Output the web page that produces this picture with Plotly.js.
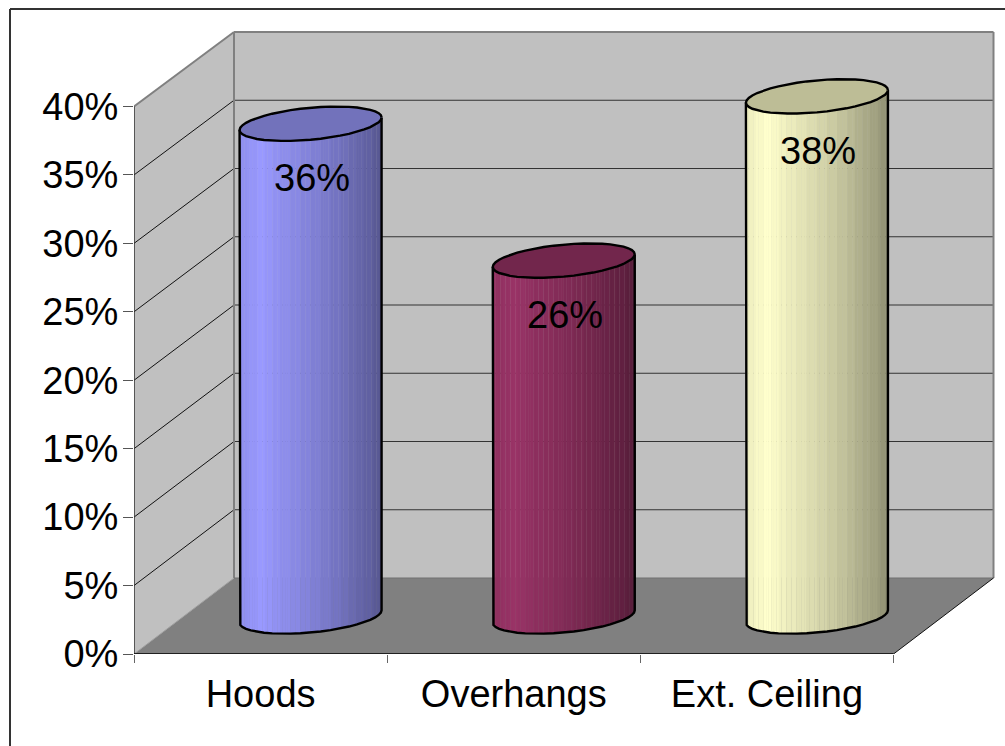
<!DOCTYPE html>
<html>
<head>
<meta charset="utf-8">
<script src="https://cdn.plot.ly/plotly-3.0.0.min.js"></script>
<style>html,body{margin:0;padding:0;background:#fff;overflow:hidden}</style>
</head>
<body>
<div id="chart" style="width:1005px;height:746px"></div>
<script>
// ---- data ----
const categories = ['Hoods', 'Overhangs', 'Ext. Ceiling'];
const values = [0.36, 0.26, 0.38];
const bodyColors = [[153,153,255], [153,51,102], [255,255,204]];
const capColors = ['#7272BB', '#72264C', '#BDBD96'];
const yTicks = [0, 0.05, 0.10, 0.15, 0.20, 0.25, 0.30, 0.35, 0.40];
const yTickLabels = ['0%','5%','10%','15%','20%','25%','30%','35%','40%'];
const edgeTicks = [-0.5, 0.5, 1.5, 2.5];
const shadeU = [-1, -0.7, -0.4, 0, 0.5, 0.85, 1];
const shadeK = [0.93, 1, 0.93, 0.85, 0.72, 0.62, 0.56];

// ---- scales: pixels per axis unit ----
const W = 1005, H = 746, L = 134, T = 14, B = 92, R = 5;
const PXX = 253.17, PXY = 1368.75;
const xMin = -0.5, xMax = xMin + (W - L - R) / PXX;
const yMin = 0, yMax = (H - T - B) / PXY;
const dX = 100 / PXX;
const backY = v => v * (546 / 547.5) + 76 / PXY;
const midX = c => c + 50 / PXX;
const midY = v => v + 37.5 / PXY;
const HW = 71 / PXX, TILT = 6.3 / PXY, MINOR = 16 / PXY;
const FACETS = 22, STRIPS = 56;

function shade(u) {
  for (let i = 1; i < shadeU.length; i++) {
    if (u <= shadeU[i]) {
      const t = (u - shadeU[i-1]) / (shadeU[i] - shadeU[i-1]);
      return shadeK[i-1] + t * (shadeK[i] - shadeK[i-1]);
    }
  }
  return shadeK[shadeK.length - 1];
}
function bandU(u) { // flat facet a point on the cylinder belongs to
  const th = Math.acos(Math.max(-1, Math.min(1, u)));
  const k = Math.min(FACETS - 1, Math.floor(th / Math.PI * FACETS));
  return Math.cos((k + 0.5) / FACETS * Math.PI);
}

const traces = [], annotations = [];
categories.forEach((name, i) => {
  const cx = midX(i), v = values[i], col = bodyColors[i];
  const xs = [], bases = [], hs = [], ws = [], cs = [];
  for (let s = 0; s < STRIPS; s++) {
    const u = -1 + (s + 0.5) * 2 / STRIPS;
    const k = shade(bandU(u));
    const y0 = midY(0) + TILT * u - MINOR * Math.sqrt(1 - u * u);
    xs.push(cx + u * HW);
    bases.push(y0);
    hs.push(midY(v) + TILT * u - y0);
    ws.push(2 * HW / STRIPS * 1.12);
    cs.push('rgb(' + col.map(c => Math.round(c * k)).join(',') + ')');
  }
  traces.push({type: 'bar', name: name, x: xs, y: hs, base: bases, width: ws,
    marker: {color: cs, line: {width: 0}}, hoverinfo: 'skip', showlegend: false});

  // cap ellipse and silhouette, on the same facets
  const capX = [], capY = [], outX = [], outY = [];
  for (let a = 0; a <= 2 * FACETS; a++) {
    const th = a / FACETS * Math.PI, u = Math.cos(th);
    capX.push(cx + u * HW);
    capY.push(midY(v) + TILT * u + MINOR * Math.sin(th));
  }
  outX.push(cx - HW); outY.push(midY(v) - TILT);
  for (let a = 0; a <= FACETS; a++) {
    const th = Math.PI - a / FACETS * Math.PI, u = Math.cos(th);
    outX.push(cx + u * HW);
    outY.push(midY(0) + TILT * u - MINOR * Math.sin(th));
  }
  outX.push(cx + HW); outY.push(midY(v) + TILT);
  traces.push({type: 'scatter', mode: 'lines', x: outX, y: outY,
    line: {color: '#000', width: 2.4}, hoverinfo: 'skip', showlegend: false});
  traces.push({type: 'scatter', mode: 'lines', x: capX, y: capY, fill: 'toself',
    fillcolor: capColors[i], line: {color: '#000', width: 2.4},
    hoverinfo: 'skip', showlegend: false});

  annotations.push({x: cx + 1.5 / PXX, y: midY(v) - 54.5 / PXY, xref: 'x', yref: 'y',
    text: Math.round(v * 100) + '%', showarrow: false, xanchor: 'center', yanchor: 'middle',
    font: {family: 'Liberation Sans, Arial, sans-serif', size: 38, color: '#000'}});
});

// ---- walls, floor and grid, tied to the axes ----
const x0 = edgeTicks[0], x1 = edgeTicks[3];
const poly = pts => 'M' + pts.map(p => p[0] + ',' + p[1]).join('L') + 'Z';
const shapes = [];
const area = (pts, fill) => shapes.push({type: 'path', xref: 'x', yref: 'y', layer: 'below',
  path: poly(pts), fillcolor: fill, line: {width: 0}});
const seg = (a, b, color, width) => shapes.push({type: 'line', xref: 'x', yref: 'y', layer: 'below',
  x0: a[0], y0: a[1], x1: b[0], y1: b[1], line: {color: color, width: width}});

const yTop = yTicks[yTicks.length - 1];
area([[x0 + dX, backY(0)], [x1 + dX, backY(0)], [x1 + dX, backY(yTop)], [x0 + dX, backY(yTop)]], '#C0C0C0');
area([[x0, 0], [x0 + dX, backY(0)], [x0 + dX, backY(yTop)], [x0, yTop]], '#C0C0C0');
area([[x0, 0], [x1, 0], [x1 + dX, backY(0)], [x0 + dX, backY(0)]], '#808080');
yTicks.slice(1, -1).forEach(t => {
  seg([x0, t], [x0 + dX, backY(t)], '#111', 1);
  seg([x0 + dX, backY(t)], [x1 + dX, backY(t)], '#333', 1);
});
seg([x0 + dX, backY(0)], [x0 + dX, backY(yTop)], '#808080', 2);
seg([x1 + dX, backY(0)], [x1 + dX, backY(yTop)], '#808080', 2);
seg([x0 + dX, backY(yTop)], [x1 + dX, backY(yTop)], '#808080', 2);
seg([x0, yTop], [x0 + dX, backY(yTop)], '#808080', 2);
seg([x0, 0], [x0 + dX, backY(0)], '#A0A0A0', 1);
seg([x0 + dX, backY(0)], [x1 + dX, backY(0)], '#707070', 1);
seg([x1, 0], [x1 + dX, backY(0)], '#111', 1);
seg([x0, 0], [x0, yTop], '#333', 1.5);
seg([x0, 0], [x1, 0], '#000', 1.5);

// outer chart frame (runs off the right and bottom of the picture)
const pxP = px => (px - L) / (W - L - R), pyP = py => (H - B - py) / (H - T - B);
[[10, 9, 1005, 9], [10, 9, 10, 746]].forEach(f => shapes.push({type: 'line', xref: 'paper', yref: 'paper',
  x0: pxP(f[0]), y0: pyP(f[1]), x1: pxP(f[2]), y1: pyP(f[3]), line: {color: '#333', width: 2}}));

const font = {family: 'Liberation Sans, Arial, sans-serif', size: 38, color: '#000'};
const layout = {
  width: W, height: H, margin: {l: L, r: R, t: T, b: B, pad: 0},
  paper_bgcolor: '#fff', plot_bgcolor: 'rgba(0,0,0,0)',
  barmode: 'overlay', showlegend: false, shapes: shapes, annotations: annotations,
  xaxis: {range: [xMin, xMax], showgrid: false, zeroline: false, showline: false,
    tickmode: 'array', tickvals: categories.map((c, i) => i), ticktext: categories,
    ticks: '', tickfont: font, ticklabelstandoff: 14, automargin: false,
    minor: {tickmode: 'array', tickvals: edgeTicks, ticks: 'outside', ticklen: 8,
      tickcolor: '#666', tickwidth: 1, showgrid: false}},
  yaxis: {range: [yMin, yMax], showgrid: false, zeroline: false, showline: false,
    tickmode: 'array', tickvals: yTicks, ticktext: yTickLabels, ticks: 'outside',
    ticklen: 10, tickcolor: '#555', tickwidth: 1, tickfont: font, ticklabelstandoff: -3, automargin: false}
};
Plotly.newPlot('chart', traces, layout, {staticPlot: true, displayModeBar: false});
</script>
</body>
</html>
